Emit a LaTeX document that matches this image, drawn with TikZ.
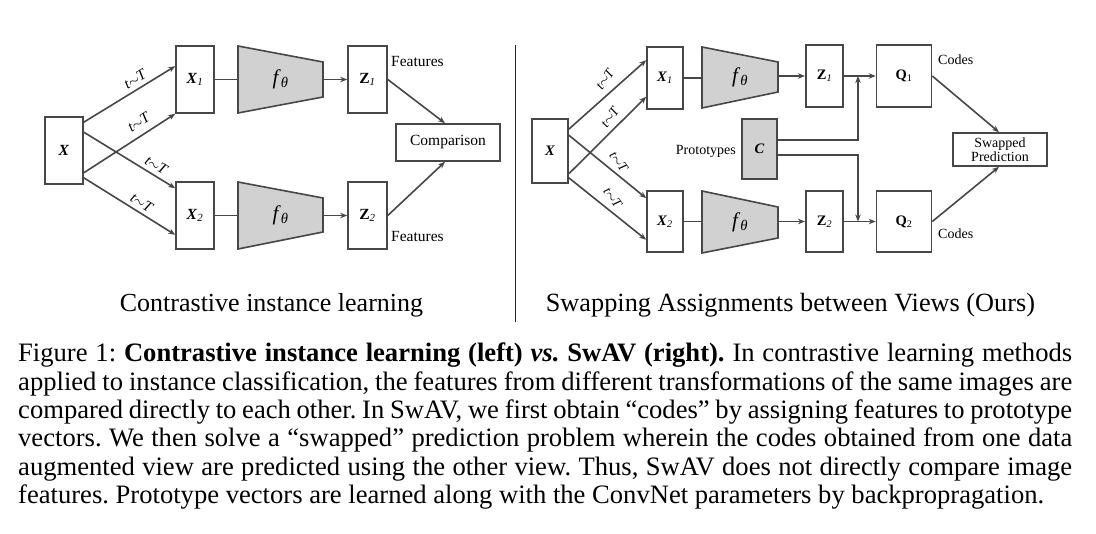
\documentclass[tikz,border=0pt]{standalone}
\usepackage{fontspec}
\setmainfont{Liberation Serif}
\usetikzlibrary{arrows.meta,calc}
\definecolor{lc}{gray}{0.28}
\definecolor{fillg}{gray}{0.82}
\newcommand{\sbx}[1]{\textsubscript{\textit{#1}}}
\newcommand{\bX}{\textbf{\textit{X}}}
\newcommand{\ftheta}{\textit{f}\textsubscript{\textit{θ}}}
\newcommand{\tT}{\textit{t}\kern-0.5pt$\sim$\kern-0.5pt\textit{T}}
\frenchspacing
\begin{document}
\begin{tikzpicture}[x=1pt,y=-1pt,
  box/.style={draw=lc, line width=1.6pt, inner sep=0pt, rectangle},
  gbox/.style={box, fill=fillg},
  trapz/.style={draw=lc, line width=1.6pt, fill=fillg, line join=miter},
  ln/.style={draw=lc, line width=1.6pt},
  arr/.style={ln, -{Stealth[length=7pt,width=5.5pt]}},
  lab/.style={inner sep=1pt, font=\fontsize{15}{18}\selectfont},
  rlab/.style={inner sep=1pt, font=\fontsize{13.5}{16}\selectfont},
  mtx/.style={font=\fontsize{15.5}{18}\selectfont},
  rmtx/.style={font=\fontsize{14.5}{17}\selectfont},
  ftx/.style={font=\fontsize{21}{24}\selectfont},
  txt/.style={inner sep=0pt, font=\fontsize{15.5}{18}\selectfont},
  rtxt/.style={inner sep=0pt, font=\fontsize{14}{16.5}\selectfont},
  sub/.style={inner sep=0pt, font=\fontsize{26}{30}\selectfont},
]
\useasboundingbox[fill=white] (0,0) rectangle (1096,534);

% ---------------- left panel ----------------
\node[box, mtx, minimum width=38, minimum height=67] (LX) at (64,150.5) {\bX};
\node[box, mtx, minimum width=38, minimum height=67] (LX1) at (195,79.5) {\bX\sbx{1}};
\node[box, mtx, minimum width=38, minimum height=67] (LX2) at (195,215.5) {\bX\sbx{2}};
\draw[trapz] (238,46) -- (323,62) -- (323,97) -- (238,113) -- cycle;
\draw[trapz] (238,182) -- (323,198) -- (323,232) -- (238,249) -- cycle;
\node[ftx] (LF1) at (280.5,79.5) {\ftheta};
\node[ftx] (LF2) at (280.5,215.5) {\ftheta};
\coordinate (LT1w) at (238,79.5); \coordinate (LT1e) at (323,79.5);
\coordinate (LT2w) at (238,215.5); \coordinate (LT2e) at (323,215.5);
\node[box, mtx, minimum width=39, minimum height=67] (LZ1) at (367.5,79.5) {\textbf{Z}\sbx{1}};
\node[box, mtx, minimum width=39, minimum height=67] (LZ2) at (367.5,215.5) {\textbf{Z}\sbx{2}};
\node[box, txt, minimum width=104, minimum height=37] (LC) at (448,142.5) {Comparison};
\node[txt, anchor=base west] (LFe1) at (391,66.5) {Features};
\node[txt, anchor=base west] (LFe2) at (391,241.5) {Features};

\draw[arr] ([yshift=-6]LX.north east) -- node[lab, pos=0.62, sloped, above=3pt] (LL1) {\tT} ([yshift=-21]LX1.north west);
\draw[arr] ([yshift=12]LX.south east) -- node[lab, pos=0.68, sloped, above=6pt] (LL2) {\tT} (LX1.south west);
\draw[arr] ([yshift=-16]LX.north east) -- node[lab, pos=0.74, sloped, above=3pt] (LL3) {\tT} ([yshift=-7]LX2.north west);
\draw[arr] ([yshift=7]LX.south east) -- node[lab, pos=0.58, sloped, above=3pt] (LL4) {\tT} ([yshift=15]LX2.south west);
\draw[ln] (LX1) -- (LT1w);
\draw[ln] (LX2) -- (LT2w);
\draw[arr] (LT1e) -- (LZ1);
\draw[arr] (LT2e) -- (LZ2);
\draw[arr] (LZ1.east) -- ([xshift=-3]LC.north);
\draw[arr] (LZ2.east) -- ([xshift=-3]LC.south);

% divider
\draw[line width=0.8pt, black!85] (515.7,45) -- (515.7,322);

% ---------------- right panel ----------------
\node[box, rmtx, minimum width=36, minimum height=64] (RX) at (550,151) {\bX};
\node[box, rmtx, minimum width=36, minimum height=62] (RX1) at (665,78) {\bX\sbx{1}};
\node[box, rmtx, minimum width=36, minimum height=61] (RX2) at (665,221.5) {\bX\sbx{2}};
\draw[trapz] (702,47) -- (778,62) -- (778,92) -- (702,108) -- cycle;
\draw[trapz] (702,191) -- (778,207) -- (778,238) -- (702,253) -- cycle;
\node[ftx] (RF1) at (740,77.5) {\ftheta};
\node[ftx] (RF2) at (740,222) {\ftheta};
\coordinate (RT1w) at (702,78); \coordinate (RT1e) at (778,76);
\coordinate (RT2w) at (702,221.5); \coordinate (RT2e) at (778,221.5);
\node[box, rmtx, minimum width=37.5, minimum height=62] (RZ1) at (824.5,76) {\textbf{Z}\sbx{1}};
\node[box, rmtx, minimum width=37.5, minimum height=61] (RZ2) at (824.5,221.5) {\textbf{Z}\sbx{2}};
\node[box, rmtx, minimum width=55, minimum height=62] (RQ1) at (904,76) {\textbf{Q}\textsubscript{1}};
\node[box, rmtx, minimum width=55, minimum height=61] (RQ2) at (904,221.5) {\textbf{Q}\textsubscript{2}};
\node[gbox, rmtx, minimum width=35, minimum height=60] (RC) at (759.5,149) {\textbf{\textit{C}}};
\node[rtxt, anchor=base east] (RPr) at (736,154.5) {Prototypes};
\node[box, rtxt, minimum width=94, minimum height=33, align=center] (RS) at (1000,149.5) {Swapped\\[-2pt]Prediction};
\node[rtxt, anchor=base west] (RCo1) at (938,65) {Codes};
\node[rtxt, anchor=base west] (RCo2) at (938,238.5) {Codes};
\coordinate (J1) at (858,76);
\coordinate (J2) at (858,221.5);

\draw[arr] ([yshift=-11]RX.north east) -- ([yshift=-14]RX1.north west);
\draw[arr] ([yshift=10]RX.south east) -- ([yshift=13]RX1.south west);
\draw[arr] ([yshift=-17]RX.north east) -- ([yshift=-8]RX2.north west);
\draw[arr] ([yshift=6]RX.south east) -- ([yshift=13]RX2.south west);
\node[rlab, rotate=55] (RL1) at (605,79) {\tT};
\node[rlab, rotate=55] (RL2) at (610,117) {\tT};
\node[rlab, rotate=-55] (RL3) at (619,162) {\tT};
\node[rlab, rotate=-55] (RL4) at (613,198) {\tT};

\draw[ln] (RX1) -- (RT1w);
\draw[ln] (RX2) -- (RT2w);
\draw[arr] (RT1e) -- (RZ1);
\draw[arr] (RT2e) -- (RZ2);
\draw[arr] (RZ1) -- (RQ1);
\draw[arr] (RZ2) -- (RQ2);
\draw[arr] ([yshift=9]RC.east) -| (J1);
\draw[arr] ([yshift=-6]RC.east) -| (J2);
\draw[arr] (RQ1.east) -- ([xshift=-1]RS.north);
\draw[arr] (RQ2.east) -- ([xshift=-1]RS.south);

% ---------------- subtitles ----------------
\node[sub, anchor=base] (S1) at (271.5,312) {Contrastive instance learning};
\node[sub, anchor=base, font=\fontsize{26.3}{30}\selectfont] (S2) at (790.5,312) {Swapping Assignments between Views (Ours)};

% ---------------- caption ----------------
\node[anchor=north west, inner sep=0pt, align=left, font=\fontsize{26.6}{28.3}\selectfont] (CAP) at (18,343) {%
\makebox[1054pt][s]{Figure 1: \textbf{Contrastive instance learning (left) \textit{vs.} SwAV (right).} In contrastive learning methods}\\
\makebox[1054pt][s]{applied to instance classification, the features from different transformations of the same images are}\\
\makebox[1054pt][s]{compared directly to each other. In SwAV, we first obtain “codes” by assigning features to prototype}\\
\makebox[1054pt][s]{vectors. We then solve a “swapped” prediction problem wherein the codes obtained from one data}\\
\makebox[1054pt][s]{augmented view are predicted using the other view. Thus, SwAV does not directly compare image}\\
\makebox[1054pt][l]{features. Prototype vectors are learned along with the ConvNet parameters by backpropragation.}};
\end{tikzpicture}
\end{document}
